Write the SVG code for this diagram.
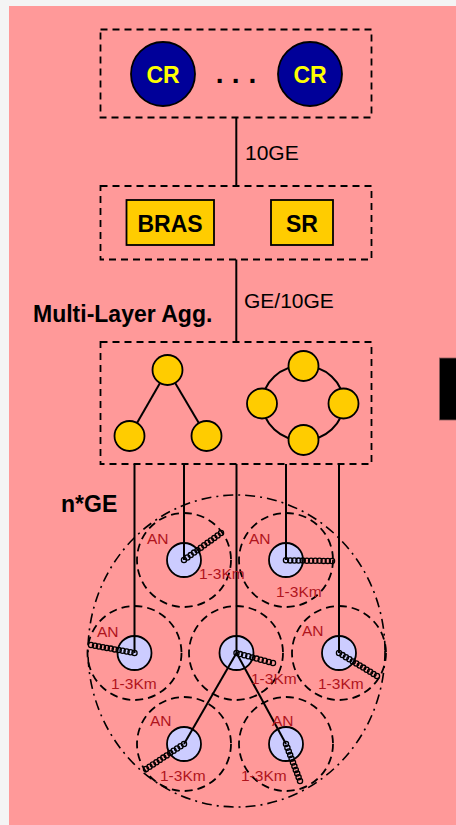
<svg xmlns="http://www.w3.org/2000/svg" width="456" height="825" viewBox="0 0 456 825">
<style>
.box{fill:none;stroke:#000;stroke-width:1.8;stroke-dasharray:7 5}
.cell{fill:none;stroke:#000;stroke-width:1.8;stroke-dasharray:8 5}
.area{fill:none;stroke:#000;stroke-width:1.6;stroke-dasharray:10 5 2 5}
.ln{stroke:#000;stroke-width:2;fill:none}
.cr{fill:#000099;stroke:#000;stroke-width:1.8}
.crt{font-family:"Liberation Sans",Arial,sans-serif;font-weight:bold;font-size:23px;fill:#ffff00;text-anchor:middle}
.ybox{fill:#ffcc00;stroke:#000;stroke-width:1.8}
.ybt{font-family:"Liberation Sans",Arial,sans-serif;font-weight:bold;font-size:23px;fill:#000;text-anchor:middle}
.agg{fill:#ffcc00;stroke:#000;stroke-width:1.8}
.an{fill:#ccccff;stroke:#000;stroke-width:1.8}
.coil circle{fill:none;stroke:#000;stroke-width:1.3}
.lbl{font-family:"Liberation Sans",Arial,sans-serif;font-size:21px;fill:#000}
.big{font-family:"Liberation Sans",Arial,sans-serif;font-weight:bold;font-size:23px;fill:#000}
.rd{font-family:"Liberation Sans",Arial,sans-serif;font-size:15.5px;fill:#b0141c}
</style>
<rect x="0" y="0" width="456" height="825" fill="#f4f4f4"/>
<rect x="9" y="6" width="447" height="819" fill="#ff9999"/>
<rect x="439.5" y="358" width="17" height="62" fill="#000" stroke="#8a5a5a" stroke-width="0.8"/>

<g id="core-group">
<rect class="box" x="100.5" y="29.5" width="271" height="88"/>
<g id="cr1"><circle class="cr" cx="163" cy="74" r="32"/><text class="crt" x="163" y="83">CR</text></g>
<text class="big" x="215.7 231.8 248.5" y="83.3" style="font-size:28px">...</text>
<g id="cr2"><circle class="cr" cx="310" cy="74" r="32"/><text class="crt" x="310" y="83">CR</text></g>
</g>

<g id="service-group">
<rect class="box" x="100.5" y="186" width="271" height="73.5"/>
<g id="bras"><rect class="ybox" x="126.5" y="200" width="87.5" height="45"/><text class="ybt" x="170" y="232">BRAS</text></g>
<g id="sr"><rect class="ybox" x="271" y="200" width="62" height="45"/><text class="ybt" x="302" y="232">SR</text></g>
</g>

<g id="agg-group">
<rect class="box" x="100.5" y="342" width="271" height="122"/>
<line class="ln" x1="167.5" y1="370" x2="129.5" y2="436"/>
<line class="ln" x1="167.5" y1="370" x2="206.5" y2="436"/>
<ellipse class="ln" cx="303" cy="403" rx="40.5" ry="37.5"/>
<circle class="agg" cx="167.5" cy="370" r="15"/>
<circle class="agg" cx="129.5" cy="436" r="15"/>
<circle class="agg" cx="206.5" cy="436" r="15"/>
<circle class="agg" cx="303.5" cy="366" r="15"/>
<circle class="agg" cx="262" cy="403.5" r="15"/>
<circle class="agg" cx="343.5" cy="403.5" r="15"/>
<circle class="agg" cx="303.5" cy="440" r="15"/>
</g>

<text class="lbl" x="245" y="160">10GE</text>
<text class="lbl" x="244" y="308">GE/10GE</text>
<text class="big" x="33" y="322">Multi-Layer Agg.</text>
<text class="big" x="61" y="512">n*GE</text>

<g id="access-area">
<ellipse class="area" cx="236.5" cy="651" rx="148.5" ry="156"/>
<circle class="cell" cx="184" cy="560" r="47"/>
<circle class="cell" cx="286" cy="560" r="47"/>
<circle class="cell" cx="134.5" cy="653" r="47"/>
<circle class="cell" cx="236" cy="653" r="47"/>
<circle class="cell" cx="339" cy="653" r="47"/>
<circle class="cell" cx="184" cy="744" r="47"/>
<circle class="cell" cx="286" cy="744" r="47"/>
</g>

<g id="connectors">
<line class="ln" x1="236.3" y1="117.5" x2="236.3" y2="186"/>
<line class="ln" x1="236.3" y1="259.5" x2="236.3" y2="342"/>
<line class="ln" x1="134.5" y1="464" x2="134.5" y2="653"/>
<line class="ln" x1="184" y1="464" x2="184" y2="560"/>
<line class="ln" x1="236.5" y1="464" x2="236.5" y2="653"/>
<line class="ln" x1="286" y1="464" x2="286" y2="560"/>
<line class="ln" x1="339" y1="464" x2="339" y2="653"/>
</g>

<g id="an1"><circle class="an" cx="184" cy="560" r="17"/></g>
<g id="an2"><circle class="an" cx="286" cy="560" r="17"/></g>
<g id="an3"><circle class="an" cx="134.5" cy="653" r="17"/></g>
<g id="an4"><circle class="an" cx="236.5" cy="653" r="17"/></g>
<g id="an5"><circle class="an" cx="339" cy="653" r="17"/></g>
<g id="an6"><circle class="an" cx="184" cy="744" r="17"/></g>
<g id="an7"><circle class="an" cx="286" cy="744" r="17"/></g>

<g id="connectors-center">
<line class="ln" x1="236.5" y1="653" x2="184" y2="744"/>
<line class="ln" x1="236.5" y1="653" x2="286" y2="744"/>
<line class="ln" x1="134.5" y1="636" x2="134.5" y2="653"/>
<line class="ln" x1="184" y1="543" x2="184" y2="560"/>
<line class="ln" x1="236.5" y1="636" x2="236.5" y2="653"/>
<line class="ln" x1="286" y1="543" x2="286" y2="560"/>
<line class="ln" x1="339" y1="636" x2="339" y2="653"/>
</g>

<g class="coil">
<circle cx="184" cy="560" r="2.6"/><circle cx="187.4" cy="557.5" r="2.6"/><circle cx="190.7" cy="555.1" r="2.6"/><circle cx="194.1" cy="552.6" r="2.6"/><circle cx="197.5" cy="550.2" r="2.6"/><circle cx="200.8" cy="547.7" r="2.6"/><circle cx="204.2" cy="545.3" r="2.6"/><circle cx="207.5" cy="542.8" r="2.6"/><circle cx="210.9" cy="540.4" r="2.6"/><circle cx="214.3" cy="537.9" r="2.6"/><circle cx="217.6" cy="535.5" r="2.6"/><circle cx="221" cy="533" r="2.6"/>
</g>
<g class="coil">
<circle cx="286" cy="560.3" r="2.6"/><circle cx="290.2" cy="560.4" r="2.6"/><circle cx="294.4" cy="560.5" r="2.6"/><circle cx="298.5" cy="560.6" r="2.6"/><circle cx="302.7" cy="560.6" r="2.6"/><circle cx="306.9" cy="560.7" r="2.6"/><circle cx="311.1" cy="560.7" r="2.6"/><circle cx="315.3" cy="560.8" r="2.6"/><circle cx="319.5" cy="560.8" r="2.6"/><circle cx="323.6" cy="560.9" r="2.6"/><circle cx="327.8" cy="560.9" r="2.6"/><circle cx="332" cy="561" r="2.6"/>
</g>
<g class="coil">
<circle cx="134.5" cy="653" r="2.6"/><circle cx="130.5" cy="652.3" r="2.6"/><circle cx="126.6" cy="651.5" r="2.6"/><circle cx="122.6" cy="650.8" r="2.6"/><circle cx="118.7" cy="650.1" r="2.6"/><circle cx="114.7" cy="649.4" r="2.6"/><circle cx="110.8" cy="648.6" r="2.6"/><circle cx="106.8" cy="647.9" r="2.6"/><circle cx="102.9" cy="647.2" r="2.6"/><circle cx="98.9" cy="646.5" r="2.6"/><circle cx="95" cy="645.7" r="2.6"/><circle cx="91" cy="645" r="2.6"/>
</g>
<g class="coil">
<circle cx="236.5" cy="653" r="2.6"/><circle cx="240.1" cy="654.1" r="2.6"/><circle cx="244.2" cy="655.2" r="2.6"/><circle cx="248.3" cy="656.3" r="2.6"/><circle cx="252.4" cy="657.4" r="2.6"/><circle cx="256.6" cy="658.6" r="2.6"/><circle cx="260.7" cy="659.7" r="2.6"/><circle cx="264.8" cy="660.8" r="2.6"/><circle cx="268.9" cy="661.9" r="2.6"/><circle cx="273" cy="663" r="2.6"/>
</g>
<g class="coil">
<circle cx="339" cy="653" r="2.6"/><circle cx="342.5" cy="655.1" r="2.6"/><circle cx="345.9" cy="657.2" r="2.6"/><circle cx="349.4" cy="659.3" r="2.6"/><circle cx="352.8" cy="661.4" r="2.6"/><circle cx="356.3" cy="663.5" r="2.6"/><circle cx="359.7" cy="665.5" r="2.6"/><circle cx="363.2" cy="667.6" r="2.6"/><circle cx="366.6" cy="669.7" r="2.6"/><circle cx="370.1" cy="671.8" r="2.6"/><circle cx="373.5" cy="673.9" r="2.6"/><circle cx="377" cy="676" r="2.6"/>
</g>
<g class="coil">
<circle cx="184" cy="744" r="2.6"/><circle cx="180.5" cy="746.3" r="2.6"/><circle cx="177.1" cy="748.5" r="2.6"/><circle cx="173.6" cy="750.8" r="2.6"/><circle cx="170.2" cy="753.1" r="2.6"/><circle cx="166.7" cy="755.4" r="2.6"/><circle cx="163.3" cy="757.6" r="2.6"/><circle cx="159.8" cy="759.9" r="2.6"/><circle cx="156.4" cy="762.2" r="2.6"/><circle cx="152.9" cy="764.5" r="2.6"/><circle cx="149.5" cy="766.7" r="2.6"/><circle cx="146" cy="769" r="2.6"/>
</g>
<g class="coil">
<circle cx="286" cy="744" r="2.6"/><circle cx="287.4" cy="747.7" r="2.6"/><circle cx="288.8" cy="751.4" r="2.6"/><circle cx="290.2" cy="755.1" r="2.6"/><circle cx="291.6" cy="758.8" r="2.6"/><circle cx="293" cy="762.5" r="2.6"/><circle cx="294.4" cy="766.2" r="2.6"/><circle cx="295.8" cy="769.9" r="2.6"/><circle cx="297.2" cy="773.6" r="2.6"/><circle cx="298.6" cy="777.3" r="2.6"/><circle cx="300" cy="781" r="2.6"/>
</g>

<g id="labels">
<text class="rd" x="147" y="544">AN</text>
<text class="rd" x="249" y="544">AN</text>
<text class="rd" x="97" y="637">AN</text>
<text class="rd" x="302" y="636">AN</text>
<text class="rd" x="150" y="726">AN</text>
<text class="rd" x="272" y="726">AN</text>
<text class="rd" x="199" y="579">1-3Km</text>
<text class="rd" x="276" y="597">1-3Km</text>
<text class="rd" x="111" y="689">1-3Km</text>
<text class="rd" x="251" y="684">1-3Km</text>
<text class="rd" x="318" y="689">1-3Km</text>
<text class="rd" x="160" y="781">1-3Km</text>
<text class="rd" x="241" y="781">1-3Km</text>
</g>
</svg>
